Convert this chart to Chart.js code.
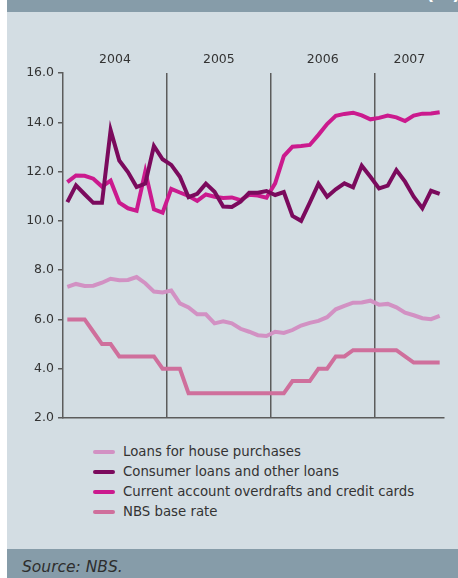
<!DOCTYPE html>
<html>
<head>
<meta charset="utf-8">
<script src="https://cdn.jsdelivr.net/npm/chart.js@4/dist/chart.umd.min.js"></script>
<style>
  html, body { margin: 0; padding: 0; background: #ffffff; }
  body { width: 458px; height: 578px; position: relative; overflow: hidden; font-family: "DejaVu Sans", sans-serif; }
  #topbar { position: absolute; left: 7px; top: 0; width: 451px; height: 12px; background: #869ca9; overflow: hidden; }
  #topbar span { position: absolute; left: 419px; top: -15px; font-size: 18px; line-height: 18px; color: #ffffff; font-weight: bold; }
  #panel { position: absolute; left: 7px; top: 12px; width: 451px; height: 537px; background: #d3dde3; }
  #chart { position: absolute; left: 0; top: 0; }
  #legend { position: absolute; left: 86px; top: 430px; color: #333333; font-size: 13.3px; }
  #legend .item { height: 20px; line-height: 20px; white-space: nowrap; position: relative; padding-left: 30px; }
  #legend .swatch { position: absolute; left: 0; top: 8px; width: 22px; height: 4px; border-radius: 2px; }
  #footer { position: absolute; left: 7px; top: 549px; width: 451px; height: 29px; background: #869ca9; }
  #footer span { position: absolute; left: 15px; top: 11px; font-size: 15.5px; line-height: 15.5px; font-style: italic; color: #2e2e2e; }
</style>
</head>
<body>
<div id="topbar"><span>(%)</span></div>
<div id="panel">
  <canvas id="chart" width="451" height="430"></canvas>
  <div id="legend"></div>
</div>
<div id="footer"><span>Source: NBS.</span></div>

<script>
// Monthly observations, January 2004 to August 2007
const months = [
  '2004-01','2004-02','2004-03','2004-04','2004-05','2004-06','2004-07','2004-08','2004-09','2004-10','2004-11','2004-12',
  '2005-01','2005-02','2005-03','2005-04','2005-05','2005-06','2005-07','2005-08','2005-09','2005-10','2005-11','2005-12',
  '2006-01','2006-02','2006-03','2006-04','2006-05','2006-06','2006-07','2006-08','2006-09','2006-10','2006-11','2006-12',
  '2007-01','2007-02','2007-03','2007-04','2007-05','2007-06','2007-07','2007-08'
];
const years = ['2004', '2005', '2006', '2007'];

const housePurchases = [
  7.32, 7.44, 7.36, 7.37, 7.49, 7.65, 7.59, 7.60, 7.72, 7.47, 7.13, 7.09,
  7.17, 6.65, 6.49, 6.21, 6.21, 5.84, 5.92, 5.84, 5.62, 5.50, 5.36, 5.33,
  5.50, 5.45, 5.57, 5.75, 5.86, 5.94, 6.09, 6.41, 6.55, 6.68, 6.69, 6.76,
  6.60, 6.63, 6.49, 6.27, 6.17, 6.05, 6.01, 6.14
];
const consumerLoans = [
  10.76, 11.44, 11.08, 10.73, 10.73, 13.68, 12.45, 11.98, 11.37, 11.51, 13.04, 12.50,
  12.27, 11.79, 10.96, 11.10, 11.51, 11.18, 10.58, 10.56, 10.78, 11.14, 11.14, 11.21,
  11.05, 11.17, 10.20, 10.00, 10.74, 11.50, 10.98, 11.28, 11.52, 11.36, 12.24, 11.79,
  11.32, 11.43, 12.06, 11.59, 10.98, 10.51, 11.22, 11.09
];
const overdraftsCards = [
  11.57, 11.84, 11.83, 11.71, 11.39, 11.63, 10.74, 10.51, 10.41, 12.00, 10.47, 10.33,
  11.30, 11.15, 11.01, 10.81, 11.07, 10.98, 10.93, 10.95, 10.84, 11.06, 11.03, 10.94,
  11.52, 12.63, 13.01, 13.04, 13.08, 13.49, 13.93, 14.26, 14.34, 14.39, 14.28, 14.12,
  14.18, 14.27, 14.20, 14.05, 14.27, 14.35, 14.36, 14.41
];
const nbsBaseRate = [
  6.00, 6.00, 6.00, 5.50, 5.00, 5.00, 4.50, 4.50, 4.50, 4.50, 4.50, 4.00,
  4.00, 4.00, 3.00, 3.00, 3.00, 3.00, 3.00, 3.00, 3.00, 3.00, 3.00, 3.00,
  3.00, 3.00, 3.50, 3.50, 3.50, 4.00, 4.00, 4.50, 4.50, 4.75, 4.75, 4.75,
  4.75, 4.75, 4.75, 4.50, 4.25, 4.25, 4.25, 4.25
];

const seriesLabels = [
  'Loans for house purchases',
  'Consumer loans and other loans',
  'Current account overdrafts and credit cards',
  'NBS base rate'
];
const seriesColours = ['#d291c3', '#7b0a5d', '#cb1a8e', '#cf6f9c'];
const seriesData = [housePurchases, consumerLoans, overdraftsCards, nbsBaseRate];

// Index positions where a new year begins, and the centre of each year's months
const yearStarts = months.map((m, i) => (i > 0 && m.slice(5) === '01') ? i : -1).filter(i => i >= 0);
const yearCentres = years.map(y => {
  const idx = months.map((m, i) => m.startsWith(y) ? i : -1).filter(i => i >= 0);
  return (idx[0] + idx[idx.length - 1]) / 2;
});

const tickFont = { family: 'DejaVu Sans', size: 12.5 };
const axisGrey = '#5c5c5c';

const chart = new Chart(document.getElementById('chart'), {
  type: 'line',
  data: {
    labels: months,
    datasets: seriesData.map((d, k) => ({
      label: seriesLabels[k],
      data: d,
      borderColor: seriesColours[k],
      backgroundColor: seriesColours[k],
      borderWidth: 4,
      pointRadius: 0,
      tension: 0,
      fill: false
    }))
  },
  options: {
    responsive: false,
    animation: false,
    events: [],
    layout: { padding: { left: 0, right: 14, top: 0, bottom: 0 } },
    plugins: { legend: { display: false }, tooltip: { enabled: false } },
    scales: {
      x: {
        type: 'category',
        position: 'bottom',
        offset: true,
        ticks: { display: false },
        grid: {
          offset: true,
          drawTicks: false,
          lineWidth: 1.5,
          color: ctx => yearStarts.includes(ctx.index) ? axisGrey : 'rgba(0,0,0,0)'
        },
        border: { display: true, color: axisGrey, width: 1.5 },
        afterFit: s => { s.height = 24; }
      },
      years: {
        type: 'linear',
        position: 'top',
        min: -0.5,
        max: months.length - 0.5,
        grid: { display: false, drawTicks: false },
        border: { display: false },
        ticks: {
          padding: 6,
          color: '#333333',
          font: tickFont,
          autoSkip: false,
          maxRotation: 0,
          callback: (v) => {
            const k = yearCentres.indexOf(v);
            return k >= 0 ? years[k] : '';
          }
        },
        afterBuildTicks: s => { s.ticks = yearCentres.map(v => ({ value: v })); },
        afterFit: s => { s.height = 61; }
      },
      y: {
        min: 2,
        max: 16,
        ticks: {
          stepSize: 2,
          padding: 4,
          color: '#333333',
          font: tickFont,
          callback: v => Number(v).toFixed(1)
        },
        grid: { drawOnChartArea: false, drawTicks: true, tickLength: 5, color: axisGrey, lineWidth: 1.5 },
        border: { display: true, color: axisGrey, width: 1.5 },
        afterFit: s => { s.width = 56; }
      }
    }
  }
});

// Legend built from the chart's own datasets
const legendEl = document.getElementById('legend');
chart.data.datasets.forEach(ds => {
  const item = document.createElement('div');
  item.className = 'item';
  const sw = document.createElement('span');
  sw.className = 'swatch';
  sw.style.background = ds.borderColor;
  item.appendChild(sw);
  item.appendChild(document.createTextNode(ds.label));
  legendEl.appendChild(item);
});
</script>
</body>
</html>
